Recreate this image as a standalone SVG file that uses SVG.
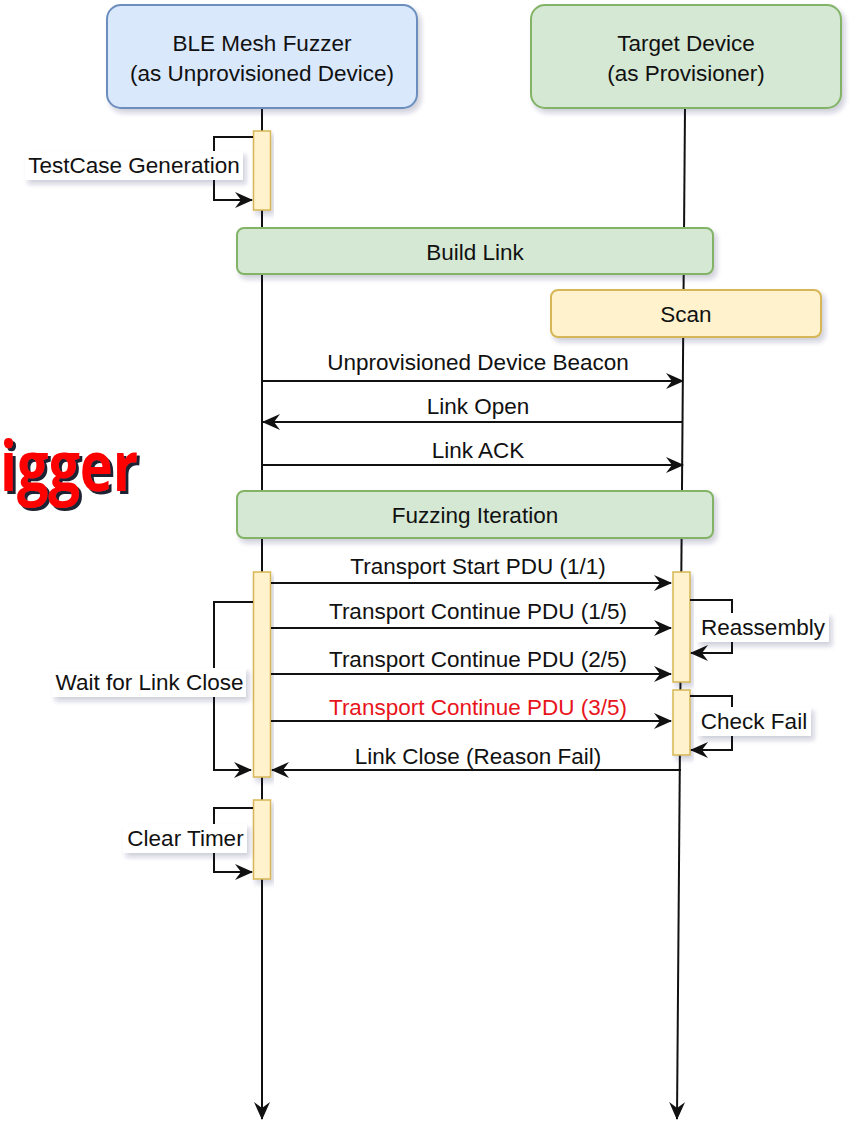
<svg xmlns="http://www.w3.org/2000/svg" width="852" height="1121" viewBox="0 0 852 1121">
<style>
text{font-family:"Liberation Sans",Arial,Helvetica,sans-serif;font-size:22.5px;fill:#111;}
.c{text-anchor:middle;}
.blue{fill:#dae8fc;stroke:#6c8ebf;stroke-width:2;}
.green{fill:#d5e8d4;stroke:#82b366;stroke-width:2;}
.yellow{fill:#fff2cc;stroke:#d6b656;stroke-width:2;}
.bar{fill:#fff2cc;stroke:#d6b656;stroke-width:1.5;}
.line{fill:none;stroke:#111;stroke-width:2;}
.lbl{fill:#fff;stroke:none;}
.big{font-family:"Open Sans","Liberation Sans",sans-serif;font-weight:bold;font-size:70px;}
</style>
<defs>
<filter id="sh" x="-10%" y="-10%" width="130%" height="140%">
<feDropShadow dx="3" dy="4" stdDeviation="2.5" flood-color="#2a2a5a" flood-opacity="0.22"/>
</filter>
<filter id="hard" x="-5%" y="-5%" width="115%" height="120%">
<feDropShadow dx="3" dy="3" stdDeviation="0.6" flood-color="#1b2233" flood-opacity="1"/>
</filter>
<marker id="ah" viewBox="0 0 18 16" markerWidth="18" markerHeight="16" refX="17" refY="8" orient="auto" markerUnits="userSpaceOnUse">
<path d="M0,0 L18,8 L0,16 L6,8 Z" fill="#111"/>
</marker>
</defs>

<g id="trigger-fragment">
<text class="big" x="0" y="491" style="fill:#ff0000" filter="url(#hard)" textLength="138" lengthAdjust="spacingAndGlyphs">igger</text>
</g>

<g id="lifelines">
<line class="line" x1="262" y1="108" x2="262" y2="1119" marker-end="url(#ah)"/>
<line class="line" x1="685" y1="108" x2="677" y2="1119" marker-end="url(#ah)"/>
</g>

<g id="fuzzer">
<rect class="blue" x="107" y="5" width="310" height="103" rx="14" filter="url(#sh)"/>
<text class="c" x="262" y="51">BLE Mesh Fuzzer</text>
<text class="c" x="262" y="81">(as Unprovisioned Device)</text>
</g>
<g id="target">
<rect class="green" x="531" y="5" width="310" height="103" rx="14" filter="url(#sh)"/>
<text class="c" x="686" y="51">Target Device</text>
<text class="c" x="686" y="81">(as Provisioner)</text>
</g>

<g id="build-link">
<rect class="green" x="237" y="228" width="476" height="46" rx="7" filter="url(#sh)"/>
<text class="c" x="475" y="260">Build Link</text>
</g>
<g id="scan">
<rect class="yellow" x="551" y="290" width="270" height="47" rx="7" filter="url(#sh)"/>
<text class="c" x="686" y="322">Scan</text>
</g>
<g id="fuzzing-iteration">
<rect class="green" x="237" y="491" width="476" height="47" rx="7" filter="url(#sh)"/>
<text class="c" x="475" y="523">Fuzzing Iteration</text>
</g>

<g id="activations">
<rect id="act-testcase" class="bar" x="253.5" y="131" width="17" height="79" filter="url(#sh)"/>
<rect id="act-wait" class="bar" x="253.5" y="572" width="17" height="205" filter="url(#sh)"/>
<rect id="act-clear" class="bar" x="253.5" y="800" width="17" height="79" filter="url(#sh)"/>
<rect id="act-reassembly" class="bar" x="673" y="572" width="17" height="110" filter="url(#sh)"/>
<rect id="act-check" class="bar" x="673" y="690" width="17" height="65" filter="url(#sh)"/>
</g>

<g id="connectors">
<line class="line" x1="262" y1="381" x2="683" y2="381" marker-end="url(#ah)"/>
<line class="line" x1="683" y1="422" x2="263" y2="422" marker-end="url(#ah)"/>
<line class="line" x1="262" y1="465" x2="683" y2="465" marker-end="url(#ah)"/>
<line class="line" x1="271" y1="583" x2="671" y2="583" marker-end="url(#ah)"/>
<line class="line" x1="271" y1="628" x2="671" y2="628" marker-end="url(#ah)"/>
<line class="line" x1="271" y1="674" x2="671" y2="674" marker-end="url(#ah)"/>
<line class="line" x1="271" y1="721" x2="671" y2="721" marker-end="url(#ah)"/>
<line class="line" x1="681" y1="770" x2="272" y2="770" marker-end="url(#ah)"/>
<path class="line" d="M253,137 H214 V200 H252" marker-end="url(#ah)"/>
<path class="line" d="M253,602 H214 V770 H251" marker-end="url(#ah)"/>
<path class="line" d="M253,808 H214 V872 H252" marker-end="url(#ah)"/>
<path class="line" d="M690,600 H732 V653 H691" marker-end="url(#ah)"/>
<path class="line" d="M690,696 H732 V750 H691" marker-end="url(#ah)"/>
</g>

<g id="message-labels">
<text class="c" x="478" y="370">Unprovisioned Device Beacon</text>
<text class="c" x="478" y="414">Link Open</text>
<text class="c" x="478" y="458">Link ACK</text>
<text class="c" x="478" y="574">Transport Start PDU (1/1)</text>
<text class="c" x="478" y="619">Transport Continue PDU (1/5)</text>
<text class="c" x="478" y="667">Transport Continue PDU (2/5)</text>
<text class="c" x="478" y="715" style="fill:#e8141c">Transport Continue PDU (3/5)</text>
<text class="c" x="478" y="764">Link Close (Reason Fail)</text>
</g>

<g id="self-labels">
<rect class="lbl" x="25" y="151" width="218" height="29" filter="url(#sh)"/>
<text class="c" x="134" y="173">TestCase Generation</text>
<rect class="lbl" x="52" y="668" width="194" height="29" filter="url(#sh)"/>
<text class="c" x="149.5" y="690">Wait for Link Close</text>
<rect class="lbl" x="123" y="824" width="124" height="29" filter="url(#sh)"/>
<text class="c" x="185.5" y="846">Clear Timer</text>
<rect class="lbl" x="697" y="613" width="132" height="29" filter="url(#sh)"/>
<text class="c" x="763" y="635">Reassembly</text>
<rect class="lbl" x="697" y="707" width="114" height="29" filter="url(#sh)"/>
<text class="c" x="754" y="729">Check Fail</text>
</g>
</svg>
